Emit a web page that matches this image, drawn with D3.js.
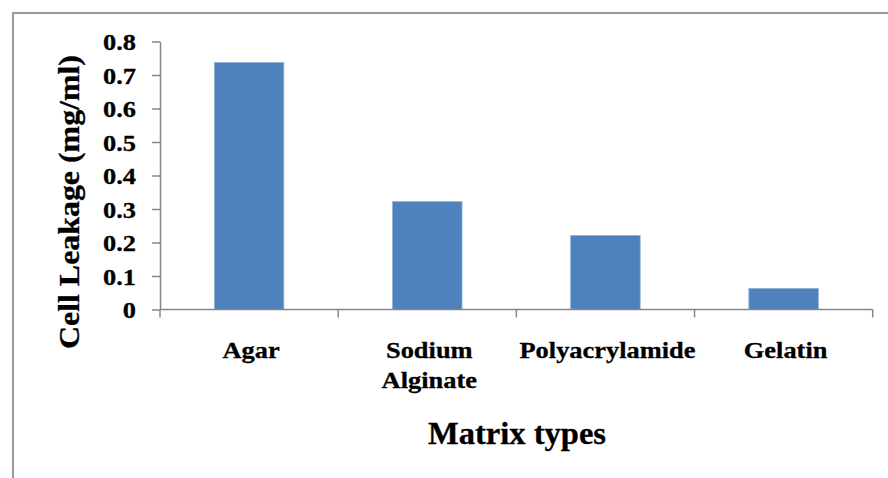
<!DOCTYPE html>
<html><head><meta charset="utf-8">
<script src="https://cdn.jsdelivr.net/npm/d3@7"></script>
<style>body{margin:0;background:#fff}svg{display:block}</style>
</head><body>
<script>
const categories = ["Agar", "Sodium\nAlginate", "Polyacrylamide", "Gelatin"];
const values = [0.737, 0.322, 0.221, 0.063];
const yTicks = [0, 0.1, 0.2, 0.3, 0.4, 0.5, 0.6, 0.7, 0.8];
const yTitle = "Cell Leakage (mg/ml)";
const xTitle = "Matrix types";

const FONT = "'Liberation Serif', 'Times New Roman', Times, Tinos, 'DejaVu Serif', serif";
const W = 888, H = 478;
const svg = d3.select("body").append("svg").attr("width", W).attr("height", H)
  .style("font-family", FONT).style("font-weight", "bold");

// frame
svg.append("path").attr("d", "M13,478V13H888").attr("fill", "none").attr("stroke", "#9a9a9a").attr("stroke-width", 2);

const x0 = 160, x1 = 872.7, yBottom = 309.5, yTop = 41.5;
const x = d3.scaleBand().domain(d3.range(categories.length)).range([x0, x1]).paddingInner(0.61).paddingOuter(0.305);
const y = d3.scaleLinear().domain([0, 0.8]).range([yBottom, yTop]);
const axisColor = "#878787";

// bars
svg.selectAll("rect.bar").data(values).join("rect").attr("class", "bar")
  .attr("x", (d, i) => x(i)).attr("width", x.bandwidth())
  .attr("y", d => y(d)).attr("height", d => y(0) - y(d))
  .attr("fill", "#4F81BD").attr("stroke", "#8fb0dc").attr("stroke-width", 0.8);

// y axis
const yAxis = svg.append("g").attr("transform", `translate(${x0},0)`)
  .call(d3.axisLeft(y).tickValues(yTicks).tickSize(8).tickSizeOuter(0).tickFormat(d => d === 0 ? "0" : d3.format(".1f")(d)));
yAxis.attr("font-family", null).attr("font-size", null);
yAxis.select(".domain").attr("stroke", axisColor).attr("stroke-width", 1.5);
yAxis.selectAll(".tick line").attr("stroke", axisColor).attr("stroke-width", 1.5);
yAxis.selectAll(".tick text").attr("font-size", 24).attr("x", 0).attr("dy", "0.34em")
  .attr("fill", "#000").attr("stroke", "#000").attr("stroke-width", 0.3)
  .attr("font-family", FONT).attr("font-weight", "bold")
  .attr("transform", "translate(-24,0) scale(1.1,1)");

// x axis line and category boundary ticks
const xa = svg.append("g");
xa.append("line").attr("x1", x0).attr("x2", x1).attr("y1", yBottom).attr("y2", yBottom).attr("stroke", axisColor).attr("stroke-width", 1.5);
const bounds = d3.range(categories.length + 1).map(i => x0 + i * (x1 - x0) / categories.length);
xa.selectAll("line.t").data(bounds).join("line").attr("class", "t")
  .attr("x1", d => d).attr("x2", d => d).attr("y1", yBottom).attr("y2", yBottom + 8)
  .attr("stroke", axisColor).attr("stroke-width", 1.5);

// category labels
categories.forEach((c, i) => {
  const cx = x(i) + x.bandwidth() / 2 + 2;
  const g = svg.append("g").attr("transform", `translate(${cx},358) scale(1.1,1)`);
  c.split("\n").forEach((line, j) => {
    g.append("text").attr("y", j * 30.5).attr("text-anchor", "middle").attr("font-size", 24)
      .attr("stroke", "#000").attr("stroke-width", 0.3).text(line);
  });
});

// axis titles
svg.append("g").attr("transform", "translate(79,202) rotate(-90) scale(1.1,1)")
  .append("text").attr("text-anchor", "middle").attr("font-size", 29)
  .attr("stroke", "#000").attr("stroke-width", 0.3).text(yTitle);
svg.append("g").attr("transform", "translate(517,444) scale(1.05,1)")
  .append("text").attr("text-anchor", "middle").attr("font-size", 31)
  .attr("stroke", "#000").attr("stroke-width", 0.3).text(xTitle);
</script>
</body></html>
